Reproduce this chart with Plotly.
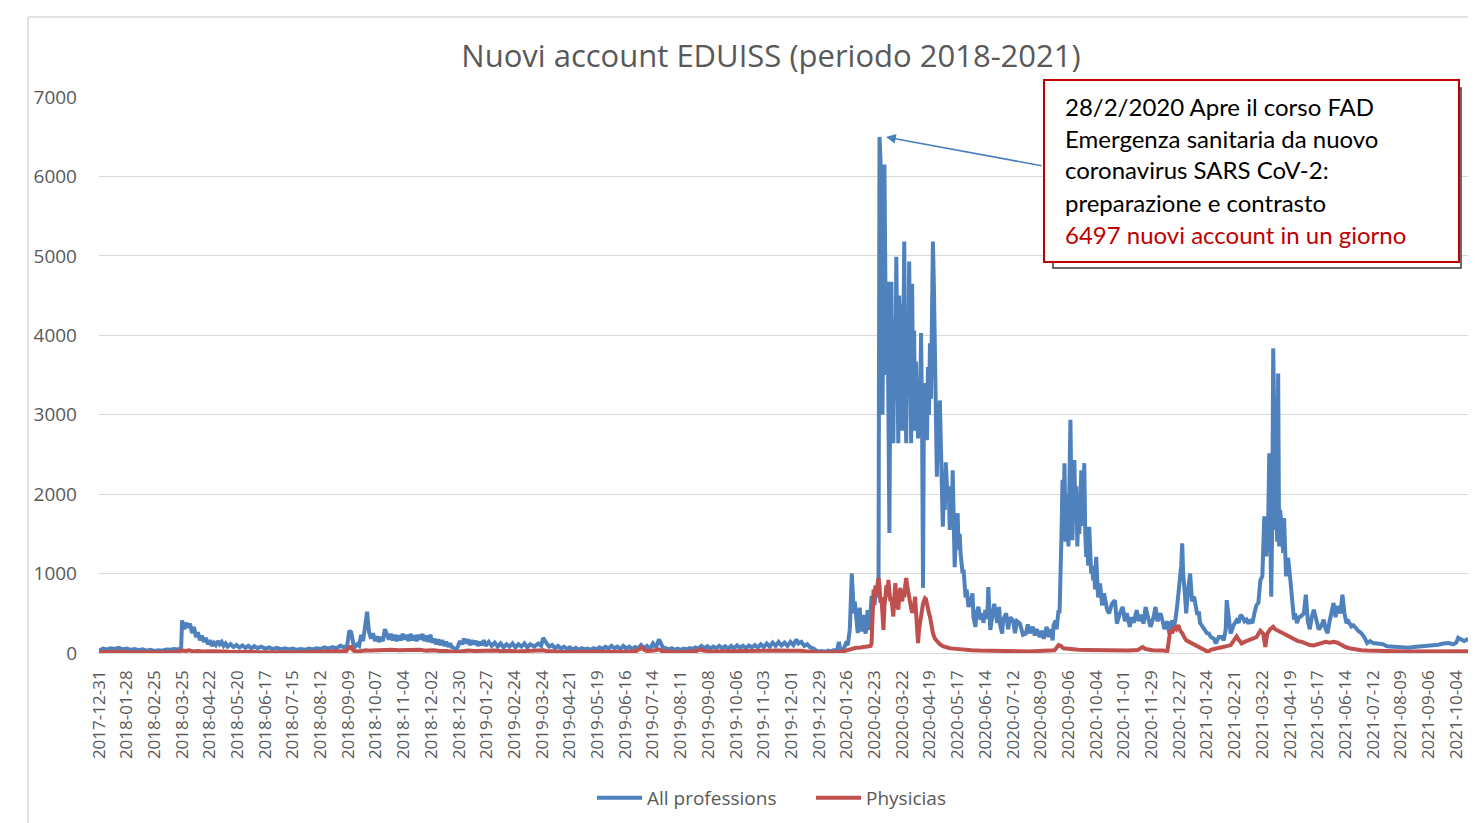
import plotly.graph_objects as go

# ---------------- data ----------------
# x = day index (category position, 0 = 2017-12-31)
tick_labels = [
    "2017-12-31", "2018-01-28", "2018-02-25", "2018-03-25", "2018-04-22", "2018-05-20",
    "2018-06-17", "2018-07-15", "2018-08-12", "2018-09-09", "2018-10-07", "2018-11-04",
    "2018-12-02", "2018-12-30", "2019-01-27", "2019-02-24", "2019-03-24", "2019-04-21",
    "2019-05-19", "2019-06-16", "2019-07-14", "2019-08-11", "2019-09-08", "2019-10-06",
    "2019-11-03", "2019-12-01", "2019-12-29", "2020-01-26", "2020-02-23", "2020-03-22",
    "2020-04-19", "2020-05-17", "2020-06-14", "2020-07-12", "2020-08-09", "2020-09-06",
    "2020-10-04", "2020-11-01", "2020-11-29", "2020-12-27", "2021-01-24", "2021-02-21",
    "2021-03-22", "2021-04-19", "2021-05-17", "2021-06-14", "2021-07-12", "2021-08-09",
    "2021-09-06", "2021-10-04",
]

all_days = [
    0, 4, 8, 12, 16, 20, 24, 28, 32, 36, 40, 44, 48, 52, 56, 60, 64, 68, 72, 76, 80, 83,
    84, 86, 88, 90, 92, 94, 96, 98, 100, 102, 104, 106, 108, 110, 112, 114, 116, 118, 120,
    122, 124, 126, 128, 130, 133, 136, 139, 142, 145, 148, 151, 154, 157, 160, 164, 168,
    172, 176, 180, 184, 188, 192, 196, 200, 204, 208, 212, 216, 220, 224, 228, 232, 236,
    240, 244, 248, 251,
    253, 255, 257, 259, 261, 263, 265, 267, 269, 271, 273, 275, 277, 279, 281, 283, 285,
    287, 289, 291, 293, 295, 297, 299, 301, 303, 305, 307, 309, 311, 313, 315, 317, 319,
    321, 323, 325, 327, 329, 331, 333, 335, 337, 339, 341, 343, 345, 347, 349, 351, 353,
    355, 357, 359, 361, 363, 365, 367, 369, 371, 373, 375, 377, 379, 381, 383, 385, 387,
    389, 391, 394, 397, 400, 403, 406, 409, 412, 415, 418, 421, 424, 427, 430, 433, 436,
    440, 444, 447, 449, 451, 453, 455, 458, 461, 464, 467, 470, 473, 476, 479, 482, 485,
    488, 491, 494, 497, 500, 503, 506, 509, 512, 515, 518, 521, 524, 527, 530, 533, 536,
    539, 542, 545, 548, 551, 554, 557, 560, 563, 566, 568, 570, 573, 576, 579, 582, 585,
    588, 591, 594, 597, 600, 603, 606, 609, 612, 615, 618, 621, 624, 627, 630, 633, 636,
    639, 642, 645, 648, 651, 654, 657, 660, 663, 666, 669, 672, 675, 678, 681, 684, 687,
    690, 693, 696, 699, 702, 705, 707, 710, 713, 716, 719, 722, 725, 728, 731, 734, 737,
    740, 743, 746, 748, 749, 751, 753, 755, 757, 759, 761, 762, 763, 764, 765, 766, 767,
    768, 769, 770, 771, 772, 773, 774, 775, 776, 777, 778, 779, 780, 781, 782, 783, 784,
    785, 786, 787, 788, 789, 790, 791, 792, 793, 794, 795, 796, 797, 798, 799, 800, 801,
    802, 803, 804, 805, 806, 807, 808, 809, 810, 811, 812, 813, 814, 815, 816, 817, 818,
    819, 820, 821, 822, 823, 824, 825, 826, 827, 828, 829, 830, 831, 832, 833, 834, 835,
    836, 837, 838, 839, 840, 841, 842, 843, 844, 845, 846, 847, 848, 849, 850, 851, 852,
    853, 854, 855, 856, 857, 858, 859, 860, 861, 862, 863, 864, 865, 866, 867, 868, 869,
    870, 871, 872, 873, 874, 875, 876, 877, 879, 881, 883, 884, 886, 887, 889, 891, 893,
    894, 896, 898, 899, 901, 903, 905, 908, 910, 911, 913, 914, 917, 919, 921, 924, 926,
    928, 931, 934, 937, 939, 941, 944, 946, 948, 951, 953, 955, 958, 960, 962, 964, 965,
    967, 968, 970, 971, 972, 973, 974, 975, 976, 977, 978, 979, 980, 981, 982, 983, 984,
    985, 986, 987, 988, 989, 990, 991, 992, 993, 994, 995, 996, 997, 998, 999, 1000, 1001,
    1002, 1003, 1004, 1005, 1006, 1007, 1008, 1009, 1010, 1012, 1014, 1016, 1019, 1021,
    1024, 1027, 1029, 1032, 1035, 1037, 1039, 1042, 1044, 1046, 1049, 1051, 1053, 1056,
    1058, 1061, 1063, 1066, 1068, 1070, 1073, 1075, 1077, 1080, 1082, 1083, 1085, 1086,
    1088, 1090, 1092, 1094, 1095, 1096, 1098, 1099, 1101, 1103, 1105, 1107, 1110, 1112,
    1113, 1116, 1118, 1120, 1122, 1124, 1127, 1129, 1132, 1135, 1137, 1139, 1140, 1142,
    1144, 1147, 1150, 1152, 1154, 1156, 1158, 1160, 1162, 1164, 1166, 1168, 1170, 1172,
    1174, 1176, 1177, 1178, 1180, 1181, 1182, 1183, 1184, 1185, 1186, 1187, 1188, 1189,
    1190, 1191, 1192, 1193, 1194, 1195, 1196, 1197, 1198, 1200, 1202, 1204, 1206, 1208,
    1209, 1211, 1213, 1215, 1218, 1220, 1222, 1224, 1226, 1228, 1231, 1233, 1236, 1238,
    1240, 1242, 1244, 1246, 1248, 1250, 1252, 1255, 1257, 1259, 1261, 1263, 1266, 1268,
    1271, 1273, 1276, 1279, 1282, 1285, 1288, 1291, 1294, 1298, 1302, 1306, 1310, 1314,
    1319, 1324, 1329, 1334, 1339, 1344, 1349, 1354, 1359, 1364, 1369, 1372, 1374, 1377,
    1380, 1383, 1386, 1389, 1392,
]

all_professions = [
    30, 55, 45, 60, 50, 65, 45, 55, 40, 50, 35, 45, 30, 40, 25, 35, 30, 45, 40, 50, 45, 60,
    410, 300, 380, 320, 370, 250, 330, 200, 260, 160, 220, 140, 190, 110, 160, 90, 130, 100, 150,
    110, 140, 90, 120, 80, 110, 75, 100, 70, 95, 65, 90, 60, 85, 60, 80, 55,
    70, 50, 65, 45, 60, 45, 55, 40, 50, 40, 55, 45, 60, 50, 70, 55, 75,
    60, 90, 70, 100,
    280, 260, 120, 80, 110, 90, 230, 150, 330, 520, 260, 180, 250, 150, 210, 140, 200,
    150, 300, 220, 170, 240, 160, 230, 150, 220, 160, 240, 170, 230, 150, 240, 160, 220,
    150, 230, 170, 240, 150, 220, 140, 230, 130, 180, 110, 170, 100, 160, 90, 140, 80,
    120, 70, 60, 40, 90, 150, 110, 180, 120, 170, 100, 160, 110, 150, 90, 140, 100,
    160, 90, 140, 90, 130, 80, 120, 70, 110, 80, 120, 70, 110, 80, 120, 70, 110,
    80, 120, 90, 190, 150, 120, 80, 100, 60, 90, 55, 80, 50, 70, 45, 65, 40,
    60, 45, 55, 40, 60, 45, 70, 50, 80, 55, 90, 60, 80, 50, 90, 55, 80,
    50, 75, 55, 100, 60, 90, 50, 120, 70, 170, 110, 70, 60, 45, 60, 40, 55,
    40, 55, 45, 60, 50, 70, 55, 90, 60, 85, 55, 80, 60, 90, 60, 85, 55,
    90, 60, 95, 65, 90, 60, 95, 70, 100, 70, 110, 75, 120, 80, 130, 90, 140,
    95, 130, 90, 140, 100, 170, 120, 140, 90, 110, 70, 60, 30, 20, 25, 15, 30,
    20, 35, 25, 140, 60, 30, 60, 120, 100, 300, 1000, 700, 500, 650, 460, 300, 250,
    400, 570, 350, 270, 400, 480, 300, 245, 350, 540, 400, 290, 500, 720, 550, 700, 600,
    750, 700, 800, 760, 6497, 6200, 4600, 3000, 4700, 6150, 4570, 3500, 4675, 2700, 1510, 3700, 4675,
    3300, 2640, 4200, 3200, 4990, 3800, 2640, 4500, 3240, 4400, 2800, 3600, 5180, 3500, 2640, 4300, 3400,
    4930, 3700, 2640, 4650, 3100, 4060, 2800, 3670, 3300, 2700, 3410, 2720, 4030, 3000, 820, 3400, 2800,
    3300, 2680, 3600, 3000, 3900, 3200, 4000, 5180, 4600, 3930, 3300, 2220, 2900, 2500, 3180, 2600, 2000,
    1590, 2000, 1800, 2400, 2180, 1900, 2100, 1550, 1900, 1700, 2300, 1500, 1080, 1400, 1600, 1760, 1300,
    1500, 1250, 1100, 1000, 1050, 870, 700, 800, 580, 650, 750, 450, 330, 500, 580, 420, 500, 380,
    540, 430, 830, 290, 450, 620, 380, 580, 350, 245, 420, 500, 300, 450, 410, 250, 400,
    370, 230, 245, 360, 250, 330, 220, 300, 200, 280, 180, 330, 200, 300, 160, 350, 410,
    300, 540, 500, 900, 1500, 2180, 1600, 2390, 1400, 2000, 1840, 1340, 2200, 2935, 2000, 1420, 1900,
    2430, 1700, 2100, 1340, 1800, 1500, 2000, 2300, 1600, 1900, 2390, 1500, 1210, 1400, 1100, 1590, 1200,
    1000, 1100, 915, 1000, 800, 1210, 900, 700, 875, 600, 750, 550, 500, 620,
    665, 370, 500, 580, 400, 500, 330, 450, 380, 540, 400, 480, 370, 580,
    420, 330, 450, 580, 400, 500, 410, 300, 400, 245, 350, 410, 300, 410,
    600, 800, 1100, 1380, 1000, 700, 500, 800, 1000, 650, 710, 500, 500, 380,
    330, 300, 250, 245, 200, 180, 120, 200, 200, 160, 300, 665, 450, 245,
    350, 410, 380, 480, 455, 400, 420, 370, 420, 375, 500, 600, 630, 915,
    965, 1300, 1720, 1215, 1400, 1700, 2515, 1500, 710, 1600, 3835, 3000, 1550, 2000,
    1400, 3520, 1340, 1800, 1680, 1500, 1260, 1700, 965, 1200, 965, 700, 420, 500,
    375, 450, 460, 500, 735, 400, 300, 450, 545, 400, 295, 350, 420, 300,
    250, 400, 550, 630, 450, 590, 500, 735, 500, 375, 400, 335, 350, 295,
    280, 250, 200, 125, 150, 125, 120, 105, 110, 85, 80, 70, 65, 70,
    65, 75, 80, 90, 85, 100, 105, 120, 125, 110, 130, 190, 170, 150,
    170, 160, 175, 150, 170,
]

phys_days = [
    0, 7, 14, 21, 28, 35, 42, 49, 56, 63, 70, 77, 84, 88, 91, 95, 100, 105, 112, 119, 126,
    133, 140, 147, 154, 161, 168, 175, 182, 189, 196, 203, 210, 217, 224, 231, 238, 245,
    250, 253, 255, 257, 260, 265, 270, 275, 282, 289, 296, 303, 310, 317, 324, 331, 338,
    345, 352, 359, 366, 373, 380, 387, 394, 401, 408, 415, 422, 429, 436, 443, 449, 452,
    459, 466, 473, 480, 487, 494, 501, 508, 515, 522, 529, 536, 543, 547, 549, 551, 554,
    561, 566, 569, 576, 583, 590, 597, 604, 608, 611, 618, 625, 632, 639, 646, 653, 660,
    667, 674, 681, 688, 695, 702, 709, 716, 723, 730, 737, 744, 750, 755, 761, 765, 770,
    775, 778, 780, 781, 782, 783, 784, 785, 786, 787, 788, 789, 790, 791, 792, 793, 794,
    795, 796, 797, 798, 799, 800, 801, 802, 803, 804, 805, 806, 807, 808, 809, 810, 811,
    812, 813, 814, 815, 816, 817, 818, 819, 820, 821, 822, 823, 824, 825, 826, 827, 828,
    829, 830, 831, 832, 833, 834, 835, 836, 837, 838, 839, 840, 841, 842, 843, 845, 848,
    850, 853, 856, 860, 864, 870, 876, 882, 890, 900, 910, 920, 930, 940, 950, 960, 966,
    970, 972, 975, 980, 985, 990, 1000, 1010, 1020, 1030, 1040, 1050, 1055, 1058, 1065,
    1075, 1080, 1082, 1083, 1085, 1087, 1089, 1091, 1093, 1095, 1097, 1099, 1102, 1105,
    1108, 1112, 1116, 1119, 1121, 1124, 1127, 1130, 1134, 1137, 1141, 1144, 1147, 1150,
    1152, 1155, 1158, 1162, 1166, 1170, 1174, 1177, 1179, 1181, 1184, 1187, 1189, 1192,
    1195, 1198, 1201, 1204, 1208, 1212, 1216, 1220, 1224, 1228, 1232, 1236, 1240, 1244,
    1248, 1252, 1256, 1260, 1264, 1270, 1276, 1282, 1290, 1300, 1310, 1320, 1330, 1340,
    1350, 1360, 1370, 1380, 1392,
]

physicians = [
    10, 15, 10, 15, 10, 12, 8, 12, 8, 12, 10, 14, 30, 25, 35, 20, 25, 18, 22, 15, 20,
    14, 18, 12, 15, 10, 12, 10, 10, 8, 10, 8, 10, 8, 10, 12, 15, 18,
    25, 70, 75, 30, 20, 25, 35, 30, 35, 30, 40, 35, 40, 35, 40, 30, 35,
    25, 25, 10, 25, 30, 25, 30, 25, 30, 22, 28, 20, 25, 20, 25, 35, 25,
    15, 15, 12, 12, 10, 12, 14, 16, 18, 20, 18, 20, 25, 55, 70, 40, 25,
    30, 45, 25, 15, 12, 12, 15, 25, 45, 30, 20, 22, 20, 22, 20, 22, 25,
    22, 25, 28, 30, 28, 30, 28, 20, 8, 5, 5, 8, 15, 30, 55, 65, 70,
    75, 80, 90, 125, 400, 800, 700, 850, 780, 900, 945, 850, 630, 700, 500, 290, 590,
    750, 850, 700, 920, 780, 650, 700, 600, 460, 700, 880, 700, 620, 545, 700, 820, 720,
    650, 780, 700, 850, 945, 850, 760, 700, 600, 560, 505, 620, 600, 710, 500, 300, 125,
    300, 400, 460, 550, 620, 660, 690, 680, 600, 540, 500, 460, 380, 300, 250, 180, 125,
    110, 85, 70, 60, 55, 45, 40, 35, 30, 25, 22, 20, 22, 20, 22, 25, 35,
    100, 90, 60, 50, 45, 40, 38, 35, 32, 35, 30, 38, 75, 50, 35,
    30, 25, 200, 290, 250, 330, 300, 350, 280, 250, 200, 160, 140, 120,
    100, 75, 40, 20, 15, 40, 55, 60, 70, 75, 90, 100, 150, 210,
    170, 120, 140, 160, 170, 200, 280, 240, 75, 245, 300, 330, 300, 280,
    260, 240, 220, 195, 170, 150, 140, 120, 100, 95, 110, 120, 140, 130,
    140, 130, 100, 75, 60, 45, 35, 30, 25, 25, 22, 20, 22, 20,
    22, 25, 22, 25, 22,
]

# ---------------- layout helpers ----------------
# the page body has an 8px default margin; page pixel coordinates below
OFF = 8
PAGE_W, PAGE_H = 1476, 823
W, H = PAGE_W - OFF, PAGE_H - OFF
L, R, T, B = 99, 1476, 97, 653   # plot area in page pixels


def fx(px):
    return (px - L) / (R - L)


def fy(py):
    return (B - py) / (B - T)


GRAY = "#595959"
BLUE = "#4F81BD"
RED = "#C0504D"

fig = go.Figure()
fig.add_trace(go.Scatter(
    x=all_days, y=all_professions, mode="lines", name="All professions",
    line=dict(color=BLUE, width=4),
))
fig.add_trace(go.Scatter(
    x=phys_days, y=physicians, mode="lines", name="Physicias",
    line=dict(color=RED, width=4),
))

fig.update_layout(
    width=W, height=H,
    margin=dict(l=L - OFF, r=PAGE_W - R, t=T - OFF, b=PAGE_H - B, pad=0),
    paper_bgcolor="white", plot_bgcolor="white",
    title=dict(
        text="Nuovi account EDUISS (periodo 2018-2021)",
        x=(771 - OFF) / W, xanchor="center", xref="container",
        y=1 - (56 - OFF) / H, yanchor="middle", yref="container",
        font=dict(family="Open Sans", size=31, color=GRAY),
    ),
    showlegend=True,
    legend=dict(
        orientation="h", xref="container", yref="container",
        x=(592 - OFF) / W, xanchor="left", y=1 - (798 - OFF) / H, yanchor="middle",
        font=dict(family="Open Sans", size=19, color=GRAY),
        itemwidth=45, entrywidth=159, entrywidthmode="pixels",
        bgcolor="rgba(0,0,0,0)",
    ),
    xaxis=dict(
        range=[0, 1392], tickmode="array",
        tickvals=[i * 28 for i in range(len(tick_labels))], ticktext=tick_labels,
        tickangle=-90, showgrid=False, zeroline=False, showline=False,
        ticks="", ticklabelstandoff=13,
        tickfont=dict(family="Open Sans", size=17, color=GRAY),
    ),
    yaxis=dict(
        range=[0, 7000], dtick=1000, showgrid=True, gridcolor="#D9D9D9", gridwidth=1.3,
        zeroline=True, zerolinecolor="#D9D9D9", zerolinewidth=1.3, showline=False,
        ticks="", ticklabelstandoff=21,
        tickfont=dict(family="Open Sans", size=19, color=GRAY),
    ),
)

shapes = [
    # outer chart frame (left and top edges)
    dict(type="line", xref="paper", yref="paper", x0=fx(28), x1=fx(28), y0=fy(840), y1=fy(17),
         line=dict(color="#D9D9D9", width=1.5), layer="above"),
    dict(type="line", xref="paper", yref="paper", x0=fx(28), x1=fx(1490), y0=fy(17), y1=fy(17),
         line=dict(color="#D9D9D9", width=1.5), layer="above"),
    # callout shadow
    dict(type="rect", xref="paper", yref="paper", x0=fx(1053), x1=fx(1461), y0=fy(268), y1=fy(88),
         line=dict(color="#3A3A3A", width=1.5), fillcolor="white", layer="above"),
    # callout box
    dict(type="rect", xref="paper", yref="paper", x0=fx(1044), x1=fx(1459), y0=fy(262), y1=fy(80),
         line=dict(color="#C00000", width=2), fillcolor="white", layer="above"),
]
fig.update_layout(shapes=shapes)

lines = [
    ("28/2/2020 Apre il corso FAD", "black", 106),
    ("Emergenza sanitaria da nuovo", "black", 138),
    ("coronavirus SARS CoV-2:", "black", 170),
    ("preparazione e contrasto", "black", 202),
    ("6497 nuovi account in un giorno", "#C00000", 234),
]
for txt, col, py in lines:
    fig.add_annotation(
        xref="paper", yref="paper", x=fx(1063), y=fy(py), xanchor="left", yanchor="middle",
        text=txt, showarrow=False, font=dict(family="Lato", size=24, color=col),
    )

# arrow to the peak
fig.add_annotation(
    xref="paper", yref="paper", x=fx(886), y=fy(137), text="",
    showarrow=True, ax=1043 - 886, ay=166 - 137, axref="pixel", ayref="pixel",
    arrowhead=2, arrowsize=1.3, arrowwidth=1.5, arrowcolor="#4A7EBB", standoff=0,
)

fig.write_html("out.html")
